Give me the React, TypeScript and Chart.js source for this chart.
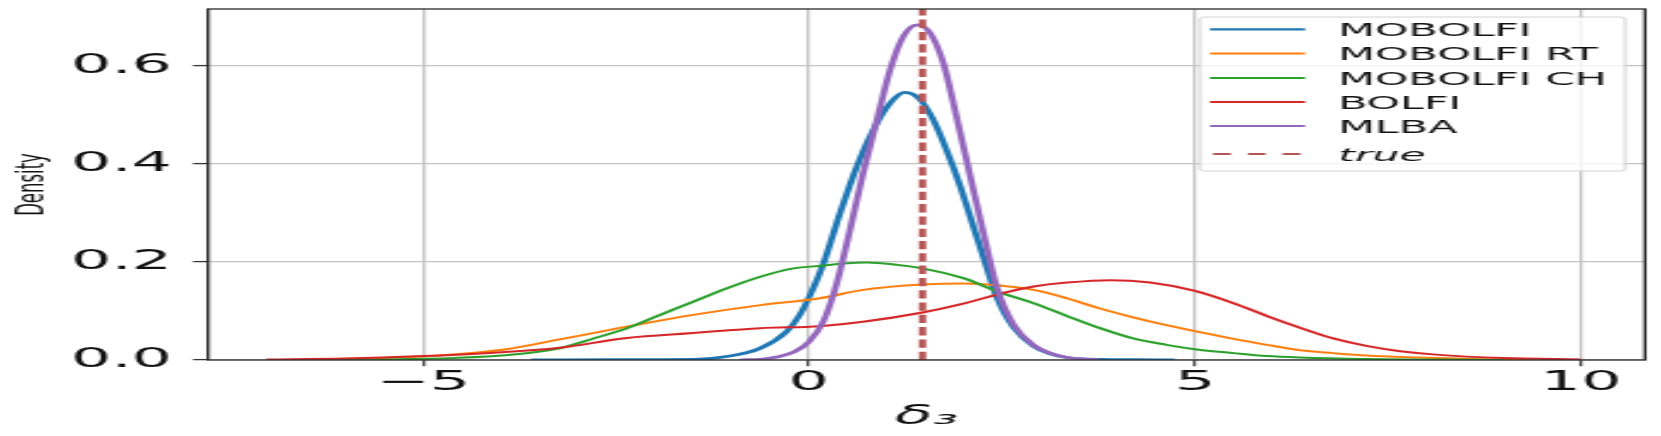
import { useEffect, useRef } from 'react';
import { Chart, registerables } from 'chart.js';

Chart.register(...registerables);

// ---------- data ----------
const SERIES_NAMES = ['MOBOLFI', 'MOBOLFI RT', 'MOBOLFI CH', 'BOLFI', 'MLBA'];
const SERIES_COLORS = ['#1f77b4', '#ff7f0e', '#2ca02c', '#d62728', '#9467bd'];
const SERIES_WIDTHS = [2.8, 2, 2, 2, 2.8];

const MOBOLFI_X = [-3.6, -2.5, -1.5, -1.07, -0.63, -0.29, -0.12, 0.06, 0.19, 0.4, 0.62, 0.83, 1.05, 1.24, 1.44, 1.61, 1.78, 1.96, 2.13, 2.3, 2.43, 2.65, 2.91, 3.12, 3.34, 3.77, 4.2, 4.74];
const MOBOLFI_Y = [0.0, 0.0005, 0.001, 0.007, 0.024, 0.058, 0.092, 0.148, 0.198, 0.299, 0.395, 0.469, 0.524, 0.546, 0.531, 0.49, 0.429, 0.354, 0.272, 0.19, 0.129, 0.066, 0.028, 0.013, 0.005, 0.001, 0.0005, 0.0];

const RT_X = [-6.5, -5.5, -4.8, -3.92, -3.23, -2.36, -1.5, -0.63, 0.14, 0.7, 1.47, 2.0, 2.47, 2.91, 3.34, 3.77, 4.2, 4.63, 5.0, 5.5, 5.93, 6.36, 6.79, 7.22, 7.91, 8.6, 9.3];
const RT_Y = [0.001, 0.004, 0.009, 0.022, 0.042, 0.068, 0.092, 0.112, 0.126, 0.143, 0.154, 0.156, 0.152, 0.143, 0.126, 0.105, 0.087, 0.071, 0.059, 0.043, 0.031, 0.02, 0.014, 0.009, 0.005, 0.002, 0.0];

const CH_X = [-6.5, -5.5, -4.6, -3.9, -3.23, -2.79, -2.36, -1.93, -1.5, -1.07, -0.63, -0.2, 0.14, 0.45, 0.75, 1.1, 1.47, 2.0, 2.47, 2.91, 3.34, 3.77, 4.2, 4.63, 5.0, 5.5, 5.93, 6.36, 7.22, 8.0, 9.0];
const CH_Y = [0.0, 0.001, 0.004, 0.01, 0.024, 0.044, 0.065, 0.092, 0.119, 0.146, 0.17, 0.187, 0.192, 0.197, 0.199, 0.195, 0.187, 0.167, 0.138, 0.116, 0.09, 0.065, 0.044, 0.031, 0.022, 0.014, 0.008, 0.005, 0.002, 0.001, 0.0];

const BOLFI_X = [-7.03, -6.0, -5.0, -4.2, -3.23, -2.36, -1.5, -0.63, 0.14, 0.7, 1.47, 2.0, 2.47, 2.91, 3.34, 3.9, 4.42, 5.0, 5.5, 5.93, 6.36, 6.79, 7.22, 7.66, 8.12, 8.99, 10.0];
const BOLFI_Y = [0.001, 0.003, 0.008, 0.014, 0.025, 0.045, 0.055, 0.065, 0.069, 0.078, 0.097, 0.115, 0.135, 0.15, 0.158, 0.163, 0.158, 0.141, 0.116, 0.09, 0.066, 0.044, 0.029, 0.018, 0.011, 0.004, 0.001];

const MLBA_X = [-0.89, -0.6, -0.42, -0.2, 0, 0.19, 0.36, 0.53, 0.7, 0.88, 1.05, 1.22, 1.4, 1.57, 1.74, 1.91, 2.09, 2.26, 2.43, 2.65, 2.91, 3.12, 3.34, 3.76];
const MLBA_Y = [0.0, 0.002, 0.006, 0.016, 0.037, 0.08, 0.157, 0.265, 0.381, 0.49, 0.592, 0.66, 0.684, 0.667, 0.606, 0.497, 0.374, 0.259, 0.15, 0.072, 0.03, 0.014, 0.005, 0.0];

const TRUE_VALUE = 1.47;
const TRUE_LABEL = 'true';
const TRUE_COLOR = '#b75555';

const X_TICKS = [-5, 0, 5, 10];
const Y_TICKS = [0, 0.2, 0.4, 0.6];
const X_MIN = -7.785;
const X_MAX = 10.83;
const Y_MIN = 0;
const Y_MAX = 0.7163;

const X_TITLE = 'δ₃';
const Y_TITLE = 'Density';

// ---------- layout ----------
const BOX_W = 692;
const FULL_W = 1661;
const H = 436;
const S = FULL_W / BOX_W; // horizontal stretch of the whole figure
const FONT = 'DejaVu Sans';

const framePlugin = {
  id: 'frame',
  afterDatasetsDraw(chart: any) {
    const { ctx, chartArea: a } = chart;
    ctx.save();
    ctx.strokeStyle = '#2b2b2b';
    ctx.lineWidth = 1.3;
    ctx.strokeRect(a.left, a.top, a.right - a.left, a.bottom - a.top);
    ctx.restore();
  },
};

const legendPlugin = {
  id: 'innerLegend',
  afterDatasetsDraw(chart: any) {
    const { ctx } = chart;
    const left = 1200 / S;
    const top = 17;
    const width = 425 / S;
    const height = 154;
    ctx.save();
    ctx.beginPath();
    if (ctx.roundRect) ctx.roundRect(left, top, width, height, 2);
    else ctx.rect(left, top, width, height);
    ctx.fillStyle = 'rgba(255,255,255,0.8)';
    ctx.fill();
    ctx.lineWidth = 1;
    ctx.strokeStyle = '#d2d2d2';
    ctx.stroke();
    const rowY = [29.3, 53.5, 78, 102, 126, 154];
    chart.data.datasets.forEach((d: any, i: number) => {
      const y = rowY[i];
      const dashed = !!d.borderDash;
      ctx.beginPath();
      ctx.setLineDash(dashed ? [7.4, 7.1] : []);
      ctx.lineWidth = 2.2;
      ctx.lineCap = 'butt';
      ctx.strokeStyle = d.borderColor;
      ctx.moveTo((dashed ? 1213 : 1210) / S, y);
      ctx.lineTo((dashed ? 1301 : 1305) / S, y);
      ctx.stroke();
      ctx.setLineDash([]);
      ctx.font = (dashed ? 'italic ' : '') + `17.8px "${FONT}"`;
      ctx.fillStyle = '#111';
      ctx.textBaseline = 'alphabetic';
      ctx.textAlign = 'left';
      ctx.fillText(d.label, 1338 / S, y + 6.5);
    });
    ctx.restore();
  },
};

export default function App() {
  const ref = useRef<HTMLCanvasElement>(null);

  useEffect(() => {
    document.body.style.margin = '0';
    const curves: [number[], number[]][] = [
      [MOBOLFI_X, MOBOLFI_Y],
      [RT_X, RT_Y],
      [CH_X, CH_Y],
      [BOLFI_X, BOLFI_Y],
      [MLBA_X, MLBA_Y],
    ];
    const drawOrder = [5, 4, 3, 2, 1];
    const datasets: any[] = SERIES_NAMES.map((name, i) => ({
      label: name,
      data: curves[i][0].map((x, j) => ({ x, y: curves[i][1][j] })),
      borderColor: SERIES_COLORS[i],
      backgroundColor: SERIES_COLORS[i],
      borderWidth: SERIES_WIDTHS[i],
      pointRadius: 0,
      cubicInterpolationMode: 'monotone',
      fill: false,
      order: drawOrder[i],
    }));
    datasets.push({
      label: TRUE_LABEL,
      data: [
        { x: TRUE_VALUE, y: Y_MIN },
        { x: TRUE_VALUE, y: Y_MAX },
      ],
      borderColor: TRUE_COLOR,
      backgroundColor: TRUE_COLOR,
      borderWidth: 3,
      borderDash: [8.3, 4],
      borderCapStyle: 'butt',
      pointRadius: 0,
      fill: false,
      order: 0,
    });

    const chart = new Chart(ref.current as HTMLCanvasElement, {
      type: 'line',
      data: { datasets },
      options: {
        animation: false,
        responsive: true,
        maintainAspectRatio: false,
        devicePixelRatio: 1,
        layout: { padding: { top: 9, right: BOX_W - 1645 / S, left: 0, bottom: 0 } },
        plugins: { legend: { display: false }, tooltip: { enabled: false } },
        scales: {
          x: {
            type: 'linear',
            min: X_MIN,
            max: X_MAX,
            afterBuildTicks: (s: any) => {
              s.ticks = X_TICKS.map((v) => ({ value: v }));
            },
            afterFit: (s: any) => {
              s.height = H - 360;
              s.paddingLeft = 0;
              s.paddingRight = 0;
            },
            ticks: {
              autoSkip: false,
              maxRotation: 0,
              padding: 1,
              color: '#111',
              font: { family: FONT, size: 26.5 },
              callback: (v: any) => (v < 0 ? '\u2212' + Math.abs(v) : String(v)),
            },
            grid: {
              color: '#c4c4c4',
              lineWidth: 1.25,
              tickLength: 6.3,
              tickColor: '#333',
              tickWidth: 1.1,
            },
            border: { display: false },
            title: {
              display: true,
              text: X_TITLE,
              color: '#111',
              font: { family: FONT, size: 26, style: 'italic' },
              padding: { top: 0, bottom: 3 },
            },
          },
          y: {
            type: 'linear',
            min: Y_MIN,
            max: Y_MAX,
            afterBuildTicks: (s: any) => {
              s.ticks = Y_TICKS.map((v) => ({ value: v }));
            },
            afterFit: (s: any) => {
              s.width = 208 / S;
              s.paddingTop = 0;
              s.paddingBottom = 0;
            },
            ticks: {
              padding: 8.7,
              color: '#111',
              font: { family: FONT, size: 26.5 },
              callback: (v: any) => Number(v).toFixed(1),
            },
            grid: {
              color: '#c4c4c4',
              lineWidth: 1.2,
              tickLength: 6.25,
              tickColor: '#333',
              tickWidth: 1.3,
            },
            border: { display: false },
            title: {
              display: true,
              text: Y_TITLE,
              color: '#111',
              font: { family: FONT, size: 16.5 },
              padding: { top: 3.6, bottom: 0 },
            },
          },
        },
      },
      plugins: [framePlugin, legendPlugin],
    } as any);
    return () => chart.destroy();
  }, []);

  return (
    <div
      style={{
        position: 'fixed',
        left: 0,
        top: 0,
        width: BOX_W + 'px',
        height: H + 'px',
        transform: `scaleX(${S})`,
        transformOrigin: '0 0',
      }}
    >
      <canvas ref={ref} />
    </div>
  );
}
